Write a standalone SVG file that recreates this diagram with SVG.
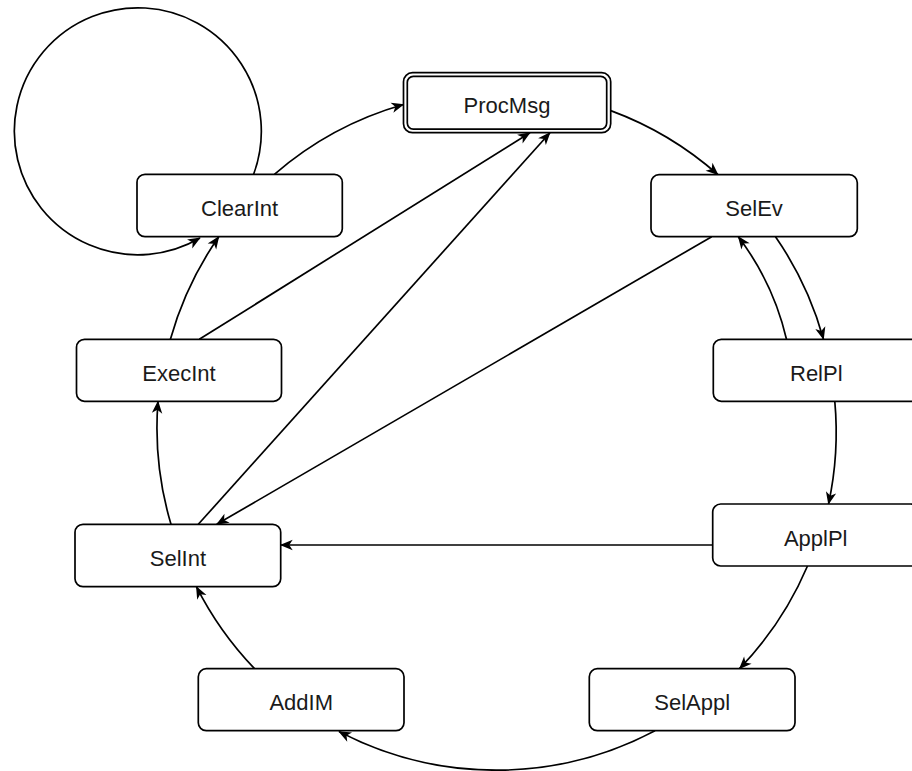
<svg xmlns="http://www.w3.org/2000/svg" width="912" height="771" viewBox="0 0 912 771">
<style>
.box{fill:#fff;stroke:#000;stroke-width:1.7}
.lbl{font-family:"Liberation Sans",Arial,sans-serif;font-size:22px;fill:#1a1a1a;text-anchor:middle}
.e{fill:none;stroke:#000;stroke-width:1.7;marker-end:url(#ah)}
</style>
<defs>
<marker id="ah" viewBox="-14 -7 16 14" refX="0" refY="0" markerWidth="16" markerHeight="14" markerUnits="userSpaceOnUse" orient="auto">
<path d="M0.8,0 L-12,-5.2 L-8.5,0 L-12,5.2 Z" fill="#000"/>
</marker>
</defs>
<rect width="912" height="771" fill="#fff"/>
<g id="connectors">
<path class="e" d="M253.6,174.3 A123.5,123.5 0 1 0 200,238"/>
<path class="e" d="M274.4,174.3 A339,339 0 0 1 403.5,104.5"/>
<path class="e" d="M610.7,110.6 A339,339 0 0 1 718,174.7"/>
<path class="e" d="M775.5,236.7 A339,339 0 0 1 823.5,339.3"/>
<path class="e" d="M786.5,339.3 Q773.3,282.9 738.3,236.7"/>
<path class="e" d="M834.8,401.3 A339,339 0 0 1 828.5,504"/>
<path class="e" d="M807.5,566 A339,339 0 0 1 739.5,668.7"/>
<path class="e" d="M655,730.7 A339,339 0 0 1 339,731.5"/>
<path class="e" d="M254.5,668.7 A339,339 0 0 1 196.4,586.7"/>
<path class="e" d="M171,524.3 A339,339 0 0 1 158,401.3"/>
<path class="e" d="M170.4,339.3 A339,339 0 0 1 218.8,236.7"/>
<path class="e" d="M199.3,339.3 L530,132.7"/>
<path class="e" d="M198.3,524.3 L550,132.7"/>
<path class="e" d="M711.7,236.7 L216.7,524.3"/>
<path class="e" d="M712.7,545 L280.7,545"/>
</g>
<g id="ProcMsg">
<rect class="box" x="403.5" y="72.7" width="207.2" height="60" rx="9"/>
<rect class="box" x="407.3" y="76.3" width="199.4" height="52.8" rx="6"/>
<text class="lbl" x="507" y="113.2">ProcMsg</text>
</g>
<g id="ClearInt">
<rect class="box" x="137" y="174.3" width="205.3" height="62.4" rx="8"/>
<text class="lbl" x="239.6" y="216">ClearInt</text>
</g>
<g id="SelEv">
<rect class="box" x="651" y="174.7" width="206.3" height="62" rx="8"/>
<text class="lbl" x="754.1" y="216.2">SelEv</text>
</g>
<g id="RelPl">
<rect class="box" x="713.3" y="339.3" width="206" height="62" rx="8"/>
<text class="lbl" x="816.3" y="380.8">RelPl</text>
</g>
<g id="ExecInt">
<rect class="box" x="76.5" y="339.3" width="205" height="62" rx="8"/>
<text class="lbl" x="179" y="380.8">ExecInt</text>
</g>
<g id="ApplPl">
<rect class="box" x="712.7" y="504" width="206" height="62" rx="8"/>
<text class="lbl" x="815.7" y="545.5">ApplPl</text>
</g>
<g id="SelInt">
<rect class="box" x="75" y="524.3" width="205.7" height="62.4" rx="8"/>
<text class="lbl" x="177.9" y="566">SelInt</text>
</g>
<g id="AddIM">
<rect class="box" x="198.3" y="668.7" width="205.7" height="62" rx="8"/>
<text class="lbl" x="301.2" y="710.2">AddIM</text>
</g>
<g id="SelAppl">
<rect class="box" x="589.3" y="668.7" width="205.7" height="62" rx="8"/>
<text class="lbl" x="692.2" y="710.2">SelAppl</text>
</g>
</svg>
